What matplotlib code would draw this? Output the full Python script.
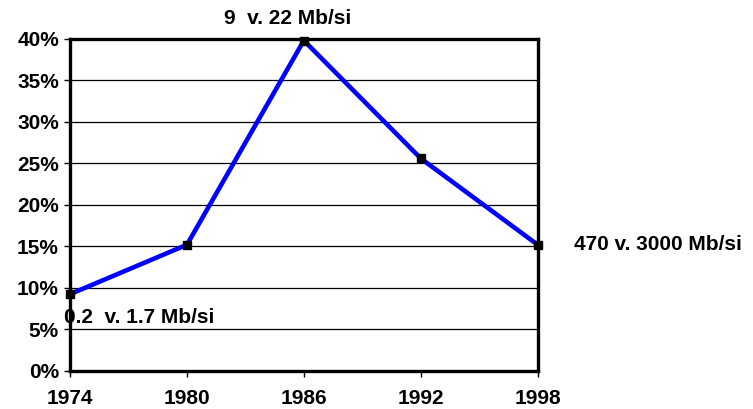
import matplotlib.pyplot as plt

years = [1974, 1980, 1986, 1992, 1998]
share = [9.25, 15.2, 39.8, 25.6, 15.2]
notes = ['0.2  v. 1.7 Mb/si', '9  v. 22 Mb/si', '470 v. 3000 Mb/si']
y_ticks = [0, 5, 10, 15, 20, 25, 30, 35, 40]

plt.rcParams['font.family'] = ['Liberation Sans', 'DejaVu Sans']
plt.rcParams['font.weight'] = 'bold'

fig = plt.figure(figsize=(7.53, 4.09), dpi=100)
ax = fig.add_axes([0.093, 0.093, 0.621, 0.812])

ax.plot(years, share, color='#0000ff', lw=3.3, marker='s', ms=6,
        mfc='black', mec='black', clip_on=False, zorder=3)

ax.set_xlim(1974, 1998)
ax.set_ylim(0, 40)
ax.set_xticks(years)
ax.set_yticks(y_ticks)
ax.set_yticklabels([f'{t}%' for t in y_ticks])
ax.grid(axis='y', color='black', lw=0.9)
ax.set_axisbelow(True)
for s in ax.spines.values():
    s.set_linewidth(2.4)
ax.tick_params(labelsize=15, length=4, width=1)
ax.tick_params(axis='x', pad=9)
ax.tick_params(axis='y', pad=4)
for lab in ax.get_xticklabels() + ax.get_yticklabels():
    lab.set_fontweight('bold')

# annotations near the first, peak and last points
ax.annotate(notes[0], (years[0], share[0]), xytext=(-4.5, -17),
            textcoords='offset points', fontsize=15, fontweight='bold',
            ha='left', va='center', annotation_clip=False)
ax.annotate(notes[1], (years[2], share[2]), xytext=(-12, 16),
            textcoords='offset points', fontsize=15, fontweight='bold',
            ha='center', va='center', annotation_clip=False)
ax.annotate(notes[2], (years[4], share[4]), xytext=(26, 0),
            textcoords='offset points', fontsize=15, fontweight='bold',
            ha='left', va='center', annotation_clip=False)

fig.savefig('out.png', dpi=100)
